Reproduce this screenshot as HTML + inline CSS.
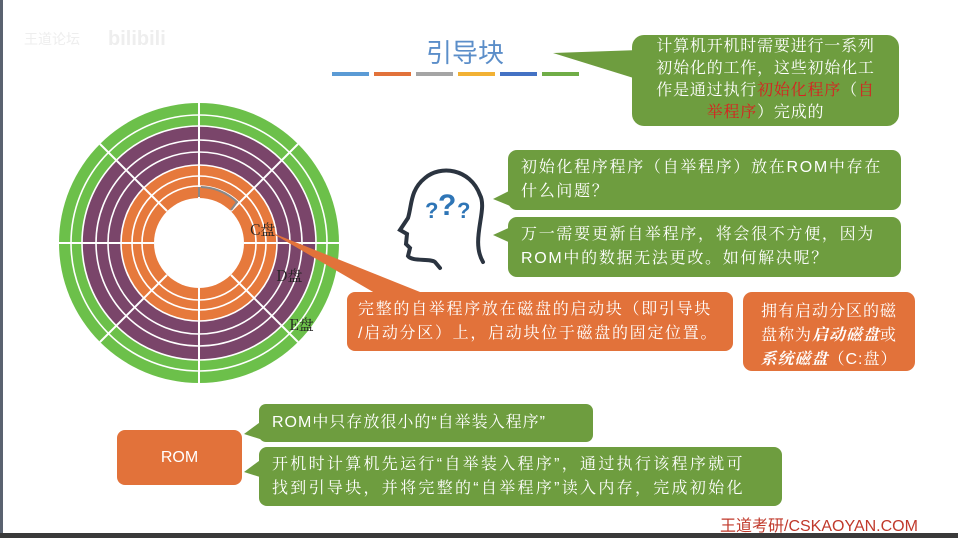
<!DOCTYPE html>
<html><head><meta charset="utf-8"><style>
html,body{margin:0;padding:0;background:#fff;}
body{width:958px;height:538px;overflow:hidden;position:relative;font-family:"Liberation Sans","Noto Sans CJK SC",sans-serif;}
.t{position:absolute;color:#fff;font-size:16px;line-height:24px;white-space:nowrap;letter-spacing:1.7px;font-family:"Liberation Sans","Noto Serif CJK SC",serif;}
</style></head><body>
<svg width="958" height="538" style="position:absolute;left:0;top:0" xmlns="http://www.w3.org/2000/svg">
<rect x="0" y="0" width="3" height="538" fill="#5a6270"/>
<rect x="0" y="533" width="958" height="5" fill="#3a3a3a"/>
<text x="24" y="44" font-size="14" fill="#eeeeee" font-family="Noto Sans CJK SC">王道论坛</text>
<text x="108" y="45" font-size="20" font-weight="bold" fill="#eeeeee" font-family="Liberation Sans">bilibili</text>
<g transform="translate(199,243)">
<circle r="140" fill="#6cc04a"/>
<circle r="117" fill="#7a456a"/>
<circle r="78" fill="#e6793c"/>
<circle r="45" fill="#fff"/>
<g fill="none" stroke="#fff" stroke-width="1.6">
<circle r="128"/><circle r="117"/><circle r="103"/><circle r="91"/><circle r="78"/><circle r="67"/><circle r="57"/>
</g>
<g stroke="#fff" stroke-width="2">
<line x1="45" y1="0" x2="140" y2="0"/><line x1="-45" y1="0" x2="-140" y2="0"/>
<line x1="0" y1="45" x2="0" y2="140"/><line x1="0" y1="-45" x2="0" y2="-140"/>
<line x1="32" y1="32" x2="99" y2="99"/><line x1="-32" y1="32" x2="-99" y2="99"/>
<line x1="32" y1="-32" x2="99" y2="-99"/><line x1="-32" y1="-32" x2="-99" y2="-99"/>
</g>
<path d="M 0 -46 L 0 -56 M 2 -56 A 56 56 0 0 1 38 -41 L 32 -33" fill="none" stroke="#888" stroke-width="2"/>
</g>
<polygon points="270,232 380,296 430,296" fill="#e2723a"/>
<text x="250" y="235" font-size="15" fill="#222" font-family="Noto Serif CJK SC">C盘</text>
<text x="276" y="281" font-size="15" fill="#222" font-family="Noto Serif CJK SC">D盘</text>
<text x="289" y="330" font-size="15" fill="#222" font-family="Noto Serif CJK SC">E盘</text>
<text x="465" y="62" font-size="26" fill="#5b8ec9" text-anchor="middle" font-family="Noto Sans CJK SC">引导块</text>
<g stroke-width="4">
<line x1="332" y1="74" x2="369" y2="74" stroke="#5b9bd5"/>
<line x1="374" y1="74" x2="411" y2="74" stroke="#e2723a"/>
<line x1="416" y1="74" x2="453" y2="74" stroke="#a5a5a5"/>
<line x1="458" y1="74" x2="495" y2="74" stroke="#f2b134"/>
<line x1="500" y1="74" x2="537" y2="74" stroke="#4472c4"/>
<line x1="542" y1="74" x2="579" y2="74" stroke="#70ad47"/>
</g>
<polygon points="553,53 640,50 640,80" fill="#6e9d3f"/>
<rect x="632" y="35" width="267" height="91" rx="12" fill="#6e9d3f"/>
<g fill="none" stroke="#2b3440" stroke-width="4" stroke-linecap="round">
<path d="M 483 262 C 470 240 488 210 480 195 C 470 168 440 165 425 178 C 410 190 412 205 408 218 L 400 230 L 407 234 L 406 244 L 410 248 L 408 256 C 412 262 430 258 435 262 L 440 268"/>
</g>
<text x="425" y="218" font-size="22" font-weight="bold" fill="#2e75b6">?</text>
<text x="438" y="215" font-size="30" font-weight="bold" fill="#2e75b6">?</text>
<text x="457" y="218" font-size="22" font-weight="bold" fill="#2e75b6">?</text>
<polygon points="493,199 515,188 515,208" fill="#6e9d3f"/>
<rect x="508" y="150" width="393" height="60" rx="9" fill="#6e9d3f"/>
<polygon points="493,235 515,225 515,245" fill="#6e9d3f"/>
<rect x="508" y="217" width="393" height="60" rx="9" fill="#6e9d3f"/>
<rect x="347" y="292" width="386" height="59" rx="8" fill="#e2723a"/>
<rect x="743" y="292" width="172" height="79" rx="9" fill="#e2723a"/>
<rect x="117" y="430" width="125" height="55" rx="8" fill="#e2723a"/>
<polygon points="244,434 263,420 263,440" fill="#6e9d3f"/>
<rect x="259" y="404" width="334" height="38" rx="7" fill="#6e9d3f"/>
<polygon points="244,472 263,458 263,478" fill="#6e9d3f"/>
<rect x="259" y="447" width="523" height="59" rx="8" fill="#6e9d3f"/>
</svg>
<div class="t" style="left:636px;top:36px;width:259px;text-align:center;line-height:22px;letter-spacing:0.8px;">计算机开机时需要进行一系列<br>初始化的工作，这些初始化工<br>作是通过执行<span style="color:#d92020">初始化程序</span>（<span style="color:#d92020">自</span><br><span style="color:#d92020">举程序</span>）完成的</div>
<div class="t" style="left:521px;top:156px;">初始化程序程序（自举程序）放在ROM中存在<br>什么问题？</div>
<div class="t" style="left:521px;top:223px;">万一需要更新自举程序，将会很不方便，因为<br>ROM中的数据无法更改。如何解决呢？</div>
<div class="t" style="left:358px;top:298px;">完整的自举程序放在磁盘的启动块（即引导块<br>/启动分区）上，启动块位于磁盘的固定位置。</div>
<div class="t" style="left:743px;top:300px;width:172px;text-align:center;letter-spacing:1px;">拥有启动分区的磁<br>盘称为<b><i>启动磁盘</i></b>或<br><b><i>系统磁盘</i></b>（C:盘）</div>
<div class="t" style="left:117px;top:446px;width:125px;text-align:center;letter-spacing:0;font-family:'Liberation Sans',sans-serif;">ROM</div>
<div class="t" style="left:272px;top:411px;letter-spacing:1px;">ROM中只存放很小的“自举装入程序”</div>
<div class="t" style="left:272px;top:453px;letter-spacing:2.3px;">开机时计算机先运行“自举装入程序”，通过执行该程序就可<br>找到引导块，并将完整的“自举程序”读入内存，完成初始化</div>
<div style="position:absolute;left:720px;top:512px;font-size:16px;color:#c0392b;">王道考研/CSKAOYAN.COM</div>
</body></html>
